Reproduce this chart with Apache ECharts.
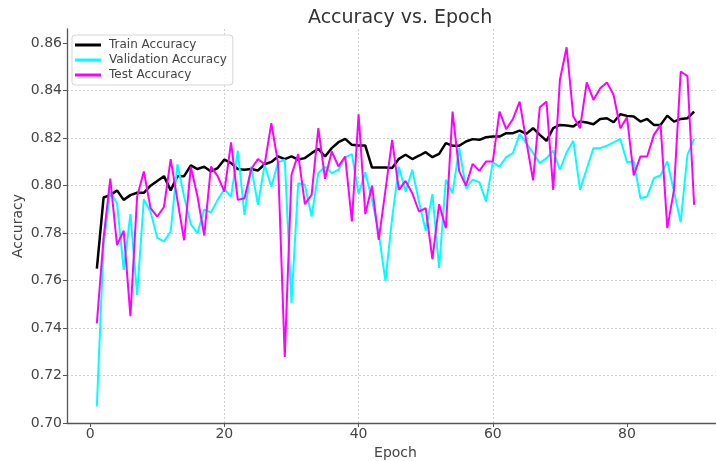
<!DOCTYPE html>
<html>
<head>
<meta charset="utf-8">
<script src="https://cdn.jsdelivr.net/npm/echarts@6/dist/echarts.min.js"></script>
<style>html,body{margin:0;padding:0;background:#fff}#c{width:716px;height:461px}</style>
</head>
<body>
<div id="c"></div>
<script>
const epochs = Array.from({length: 90}, (_, i) => i + 1);
const trainAcc = [0.765,0.795,0.796,0.798,0.794,0.796,0.797,0.797,0.800,0.802,
0.804,0.798,0.804,0.804,0.8085,0.807,0.808,0.806,0.8074,0.811,
0.8095,0.807,0.8067,0.807,0.8064,0.809,0.810,0.8123,0.8112,0.8123,
0.811,0.8116,0.8137,0.8155,0.8123,0.8158,0.8183,0.8197,0.8172,0.8169,
0.8169,0.8076,0.8076,0.8076,0.8074,0.8113,0.813,0.8112,0.8126,0.8141,
0.812,0.8134,0.8179,0.8168,0.8168,0.8186,0.8196,0.8193,0.8204,0.8207,
0.8207,0.8221,0.8221,0.8232,0.8218,0.8242,0.8214,0.8189,0.8242,0.8256,
0.8253,0.8249,0.827,0.8266,0.8259,0.8281,0.8284,0.8267,0.8301,0.8294,
0.8291,0.827,0.8281,0.8256,0.8256,0.8295,0.827,0.8281,0.8284,0.8312];
const valAcc = [0.707,0.775,0.7975,0.7926,0.7645,0.788,0.754,0.7943,0.789,0.778,
0.7765,0.7807,0.809,0.7954,0.7838,0.780,0.790,0.7887,0.794,0.7985,
0.7954,0.8147,0.7877,0.808,0.7919,0.8088,0.7996,0.8098,0.8109,0.7505,
0.801,0.8004,0.787,0.8053,0.808,0.8053,0.8067,0.8119,0.8133,0.7966,
0.8056,0.794,0.780,0.7599,0.7863,0.808,0.7975,0.8067,0.7933,0.781,
0.7964,0.7653,0.8025,0.7968,0.8158,0.7989,0.8025,0.8015,0.7933,0.8098,
0.808,0.812,0.8137,0.8217,0.8179,0.8137,0.8095,0.8116,0.8147,0.8067,
0.814,0.8189,0.7982,0.8071,0.8158,0.8158,0.8168,0.8182,0.8197,0.8099,
0.8102,0.7947,0.7954,0.8032,0.8043,0.8102,0.7975,0.7846,0.813,0.8197];
const testAcc = [0.742,0.778,0.803,0.775,0.781,0.745,0.7954,0.806,0.7905,0.787,
0.791,0.8112,0.794,0.777,0.808,0.7954,0.779,0.808,0.804,0.7975,
0.8182,0.794,0.7947,0.807,0.8112,0.809,0.8263,0.8095,0.7278,0.8046,
0.8133,0.7922,0.7961,0.8242,0.8029,0.8144,0.8081,0.8123,0.7849,0.8301,
0.788,0.800,0.7772,0.798,0.8193,0.7982,0.802,0.7968,0.7891,0.7905,
0.769,0.7922,0.7821,0.8312,0.806,0.800,0.8092,0.8062,0.8102,0.8102,
0.8312,0.8238,0.8281,0.8354,0.8186,0.8022,0.833,0.8354,0.7982,0.8446,
0.8583,0.8291,0.8242,0.8435,0.8361,0.841,0.8435,0.8382,0.8242,0.8288,
0.8043,0.8123,0.8123,0.8214,0.8256,0.7821,0.7982,0.8481,0.8462,0.7919];
const yTicks = [0.70,0.72,0.74,0.76,0.78,0.80,0.82,0.84,0.86];
const xTicks = [0,20,40,60,80];

const font = 'DejaVu Sans';
const pair = arr => epochs.map((e, i) => [e, arr[i]]);
const chart = echarts.init(document.getElementById('c'), null, {renderer: 'canvas'});
const gridLine = {show: true, lineStyle: {color: '#d0d0d0', width: 1, type: [2, 2]}, showMinLine: false, showMaxLine: false};
chart.setOption({
  animation: false,
  backgroundColor: '#fff',
  title: {text: 'Accuracy vs. Epoch', left: 303, top: 4,
    textStyle: {fontFamily: font, fontSize: 19, fontWeight: 'normal', color: '#333'}},
  legend: {
    orient: 'vertical', left: 72, top: 35,
    padding: [4, 6, 4, 3], itemGap: 3, itemWidth: 26, itemHeight: 3, icon: 'rect',
    backgroundColor: 'rgba(255,255,255,0.85)', borderColor: '#d6d6d6', borderWidth: 1, borderRadius: 3,
    textStyle: {fontFamily: font, fontSize: 12, color: '#444', padding: [0, 0, 0, 3]},
    data: ['Train Accuracy', 'Validation Accuracy', 'Test Accuracy']
  },
  grid: {left: 67, right: -8, top: 29, bottom: 38, containLabel: false, outerBoundsMode: 'none'},
  xAxis: {
    type: 'value', min: -3.45, max: 94.45, splitNumber: 5,
    name: 'Epoch', nameLocation: 'middle', nameGap: 20,
    nameTextStyle: {fontFamily: font, fontSize: 14, color: '#444'},
    axisLine: {show: true, onZero: false, lineStyle: {color: '#555', width: 1.3}},
    axisTick: {show: true, length: 4, lineStyle: {color: '#555'},
      customValues: xTicks},
    axisLabel: {fontFamily: font, fontSize: 14, color: '#444', margin: 4,
      customValues: xTicks, formatter: v => String(v)},
    splitLine: gridLine
  },
  yAxis: {
    type: 'value', min: 0.70, max: 0.866, interval: 0.02,
    name: 'Accuracy', nameLocation: 'middle', nameGap: 42, nameRotate: 90, nameMoveOverlap: false,
    nameTextStyle: {fontFamily: font, fontSize: 14, color: '#444'},
    axisLine: {show: true, onZero: false, lineStyle: {color: '#555', width: 1.3}},
    axisTick: {show: true, length: 4, lineStyle: {color: '#555'}, customValues: yTicks},
    axisLabel: {fontFamily: font, fontSize: 14, color: '#444', margin: 5,
      customValues: yTicks, formatter: v => v.toFixed(2)},
    splitLine: gridLine
  },
  series: [
    {name: 'Train Accuracy', type: 'line', data: pair(trainAcc), showSymbol: false, symbol: 'none',
      lineStyle: {color: '#000', width: 2.5}, itemStyle: {color: '#000'}, z: 2},
    {name: 'Validation Accuracy', type: 'line', data: pair(valAcc), showSymbol: false, symbol: 'none',
      lineStyle: {color: '#00ffff', width: 2}, itemStyle: {color: '#00ffff'}, z: 3},
    {name: 'Test Accuracy', type: 'line', data: pair(testAcc), showSymbol: false, symbol: 'none',
      lineStyle: {color: '#ff00ff', width: 2}, itemStyle: {color: '#ff00ff'}, z: 4}
  ]
});
</script>
</body>
</html>
